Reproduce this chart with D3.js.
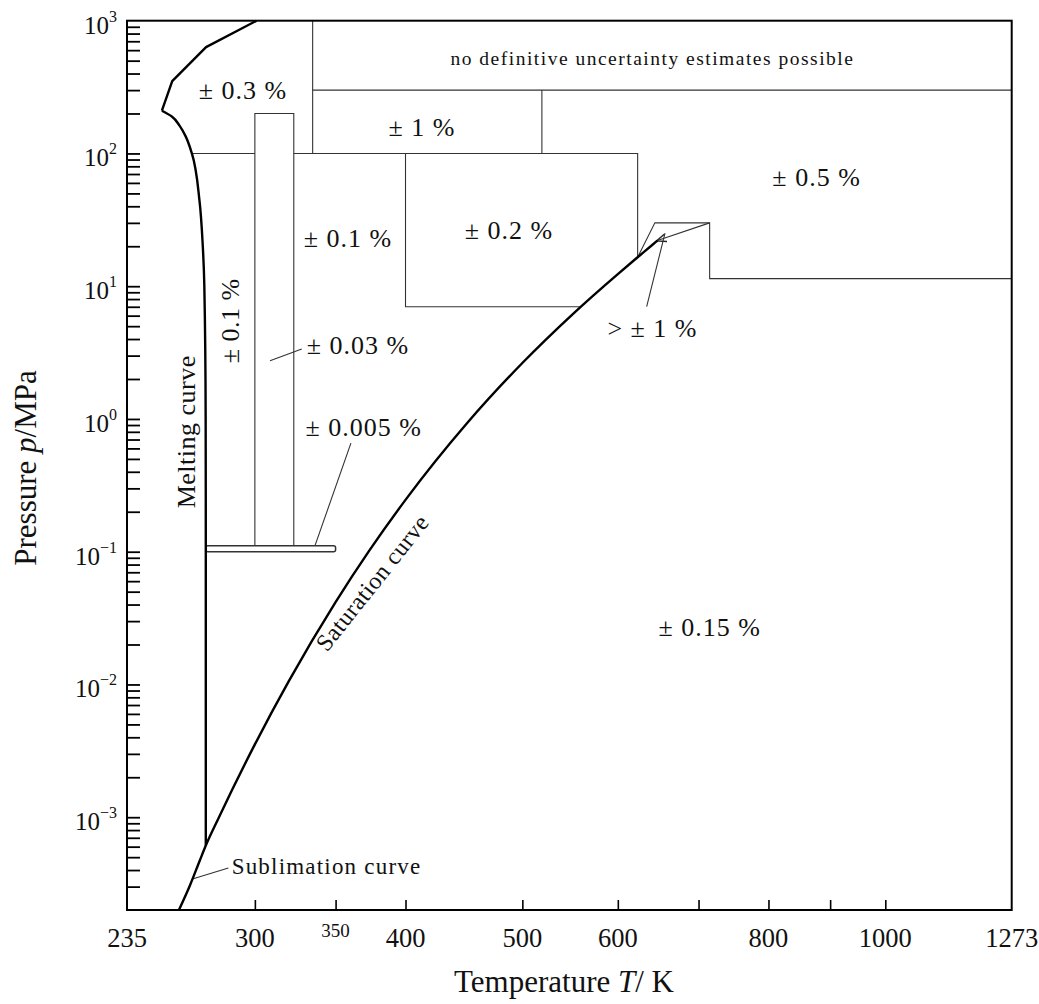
<!DOCTYPE html>
<html><head><meta charset="utf-8">
<script src="https://cdn.jsdelivr.net/npm/d3@7"></script>
<style>
body{margin:0;background:#fff}
svg{display:block}
text{font-family:"Liberation Serif","Times New Roman",serif;fill:#111}
</style>
</head><body>
<svg id="chart" width="1039" height="1004"></svg>
<script>
// ---------------- data (T in K, p in MPa) ----------------
// Melting curve of ice Ih (from triple point upwards)
const meltIhT = [273.16, 273.16, 273.09, 272.4, 271.6, 269.9, 266.0, 262.8, 259.8, 256.0, 251.2];
const meltIhP = [0.000611657, 0.1, 1, 10, 20, 44, 100, 135, 162, 190, 209.9];
// Melting curves of ices III, V, VI
const meltHighT = [251.2, 256.2, 273.3, 301];
const meltHighP = [209.9, 350.1, 632.4, 1000];
// Sublimation curve
const sublT = [259.5, 265, 270, 273.16];
const sublP = [0.0002, 0.000306, 0.00047, 0.000611657];
// Saturation (vapour pressure) curve up to the critical point
const satT = [273.16, 280, 300, 320, 350, 373.124, 400, 450, 500, 550, 600, 623.15, 640, 647.096];
const satP = [0.000611657, 0.0009918, 0.0035368, 0.010546, 0.041682, 0.101325, 0.24577, 0.9322, 2.6392, 6.1172, 12.345, 16.529, 20.265, 22.064];

// Region boundaries (thin lines), as [T, p] vertices
const boundaryLines = [
  [[335, 1000], [335, 100]],
  [[335, 300], [1273, 300]],
  [[519, 300], [519, 100]],
  [[266, 100], [300, 100]],
  [[323.15, 100], [623.15, 100], [623.15, 16.529]],
  [[400, 100], [400, 7], [558, 7]],
  [[300, 0.111], [300, 200], [323.15, 200], [323.15, 0.111]],
  [[623.15, 16.529], [644, 30], [715, 30], [715, 11.4], [1273, 11.4]]
];
const arrowLine = [[715, 30], [647.096, 22.064]];
// thin double-line band around 0.1 MPa
const bandT = [273.16, 350];
const bandP = [0.1, 0.111];

// Leader lines
const leaders = [
  [[308.8, 2.74], [328.1, 3.37]],
  [[360.4, 0.658], [336.5, 0.111]],
  [[266.7, 3.44e-4], [285.2, 4.14e-4]],
  [[634, 7.02], [656.6, 25.1]]
];

// Region / curve labels (text, anchor point in T,p)
const regionLabels = [
  {text: "± 0.3 %", T: 293.3, p: 300},
  {text: "± 1 %", T: 412.8, p: 158},
  {text: "± 0.5 %", T: 877, p: 66.8},
  {text: "± 0.2 %", T: 487.4, p: 26.5},
  {text: "± 0.1 %", T: 358.4, p: 23},
  {text: "> ± 1 %", T: 641, p: 4.85},
  {text: "± 0.15 %", T: 715, p: 0.027}
];
const startLabels = [
  {text: "± 0.03 %", T: 331.2, p: 3.61},
  {text: "± 0.005 %", T: 330.4, p: 0.864}
];
const noteLabel = {text: "no definitive uncertainty estimates possible", T: 641, p: 521};
const verticalLabels = [
  {text: "± 0.1 %", T: 286.1, p: 5.48},
  {text: "Melting curve", T: 263, p: 0.8}
];
const sublLabel = {text: "Sublimation curve", T: 287, p: 4.27e-4};
const satLabel = {text: "Saturation curve", T: 344.3, p: 0.01734};

// Axis ticks
const xTickValues = [300, 350, 400, 500, 600, 700, 800, 900, 1000];
const xTickLabels = [235, 300, 350, 400, 500, 600, 800, 1000, 1273];
const yDecades = [-3, -2, -1, 0, 1, 2, 3];

// ---------------- drawing ----------------
const svg = d3.select("#chart");
const x = d3.scaleLog().domain([235, 1273]).range([127, 1011.7]);
const y = d3.scaleLog().domain([2e-4, 1000]).range([910, 20.7]);

const line = d3.line().x(d => x(d[0])).y(d => y(d[1]));
const zip = (a, b) => a.map((v, i) => [v, b[i]]);

// defs: arrow
svg.append("defs").append("marker")
  .attr("id", "arr").attr("viewBox", "0 0 10 10").attr("refX", 9).attr("refY", 5)
  .attr("markerWidth", 9).attr("markerHeight", 9).attr("orient", "auto")
  .append("path").attr("d", "M0,1 L10,5 L0,9").attr("fill", "none").attr("stroke", "#222").attr("stroke-width", 1.4);

// thin boundaries
const thin = svg.append("g").attr("fill", "none").attr("stroke", "#333").attr("stroke-width", 1.1);
boundaryLines.forEach(pts => thin.append("path").attr("d", line(pts)));
thin.append("path").attr("d", line(arrowLine)).attr("marker-end", "url(#arr)");
leaders.forEach(pts => thin.append("path").attr("d", line(pts)));
// band
thin.append("rect")
  .attr("x", x(bandT[0])).attr("y", y(bandP[1]))
  .attr("width", x(bandT[1]) - x(bandT[0]))
  .attr("height", y(bandP[0]) - y(bandP[1]))
  .attr("rx", 2).attr("fill", "#fff").attr("stroke-width", 1.5);

// thick curves
const thick = svg.append("g").attr("fill", "none").attr("stroke", "#000").attr("stroke-width", 2.4)
  .attr("stroke-linejoin", "round");
thick.append("path").attr("d", d3.line().x(d => x(d[0])).y(d => y(d[1])).curve(d3.curveMonotoneY)(zip(meltIhT, meltIhP)));
thick.append("path").attr("d", line(zip(meltHighT, meltHighP)));
thick.append("path").attr("d", d3.line().x(d => x(d[0])).y(d => y(d[1])).curve(d3.curveMonotoneX)(zip(sublT, sublP).concat(zip(satT, satP).slice(1))));

// frame
svg.append("rect").attr("x", 127).attr("y", 20.7).attr("width", 1011.7 - 127).attr("height", 910 - 20.7)
  .attr("fill", "none").attr("stroke", "#000").attr("stroke-width", 2);

// axes ticks (inward)
const yAxis = svg.append("g").attr("transform", "translate(127,0)")
  .call(d3.axisRight(y).tickValues(y.ticks().filter(v => v > 2.05e-4 && v < 999)).tickSize(13).tickFormat(""));
yAxis.select(".domain").remove();
yAxis.selectAll("line").attr("stroke", "#000").attr("stroke-width", 1.8);
const xAxis = svg.append("g").attr("transform", "translate(0,910)")
  .call(d3.axisTop(x).tickValues(xTickValues).tickSize(10).tickFormat(""));
xAxis.select(".domain").remove();
xAxis.selectAll("line").attr("stroke", "#000").attr("stroke-width", 1.6);

// tick labels
xTickLabels.forEach(v => {
  const small = v === 350;
  svg.append("text").attr("x", x(v)).attr("y", small ? 937 : 947)
    .attr("text-anchor", "middle").attr("font-size", small ? 19 : 26.5).text(v);
});
yDecades.forEach(e => {
  const t = svg.append("text").attr("x", 117).attr("y", y(Math.pow(10, e)) + 13)
    .attr("text-anchor", "end").attr("font-size", 25);
  t.append("tspan").text("10");
  t.append("tspan").attr("dy", -12).attr("font-size", 16).text(e < 0 ? "\u2212" + (-e) : e);
});

// axis titles
const xt = svg.append("text").attr("x", 564).attr("y", 992).attr("text-anchor", "middle").attr("font-size", 31);
xt.append("tspan").text("Temperature ");
xt.append("tspan").attr("font-style", "italic").text("T");
xt.append("tspan").text("/ K");
const yt = svg.append("text").attr("transform", "translate(36,468) rotate(-90)").attr("text-anchor", "middle").attr("font-size", 31);
yt.append("tspan").text("Pressure ");
yt.append("tspan").attr("font-style", "italic").text("p");
yt.append("tspan").text("/MPa");

// labels
regionLabels.forEach(d => svg.append("text").attr("x", x(d.T)).attr("y", y(d.p)).attr("dy", "0.35em")
  .attr("text-anchor", "middle").attr("font-size", 26).attr("letter-spacing", 1).text(d.text));
startLabels.forEach(d => svg.append("text").attr("x", x(d.T)).attr("y", y(d.p)).attr("dy", "0.35em")
  .attr("text-anchor", "start").attr("font-size", 26).attr("letter-spacing", 1).text(d.text));
svg.append("text").attr("x", x(noteLabel.T)).attr("y", y(noteLabel.p)).attr("dy", "0.35em")
  .attr("text-anchor", "middle").attr("font-size", 19.5).attr("letter-spacing", 1.5).text(noteLabel.text);
verticalLabels.forEach(d => svg.append("text")
  .attr("transform", `translate(${x(d.T)},${y(d.p)}) rotate(-90)`).attr("dy", "0.35em")
  .attr("text-anchor", "middle").attr("font-size", 26).attr("letter-spacing", 0.5).text(d.text));
svg.append("text").attr("x", x(sublLabel.T)).attr("y", y(sublLabel.p)).attr("dy", "0.35em")
  .attr("text-anchor", "start").attr("font-size", 23).attr("letter-spacing", 1.2).text(sublLabel.text);
svg.append("text").attr("transform", `translate(${x(satLabel.T)},${y(satLabel.p)}) rotate(-51.5)`)
  .attr("text-anchor", "start").attr("font-size", 24).attr("letter-spacing", 0.5).text(satLabel.text);
</script>
</body></html>
